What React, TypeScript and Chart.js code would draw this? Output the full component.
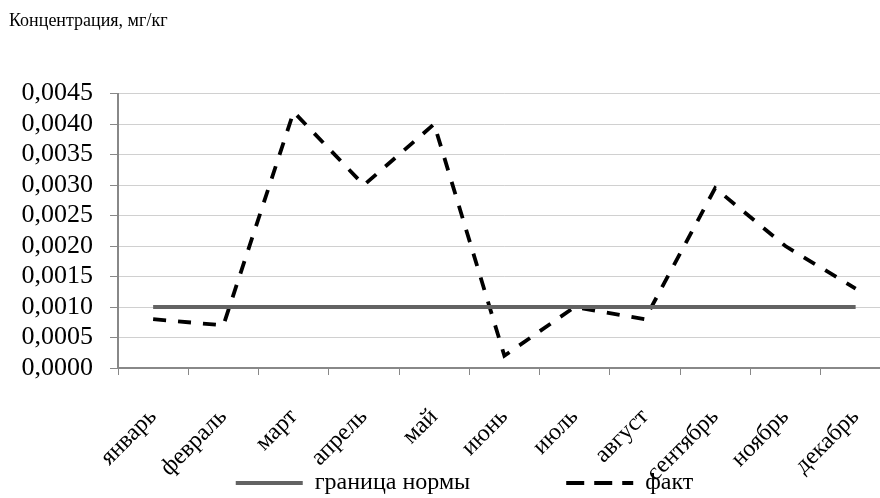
import React, { useEffect, useRef } from "react";
import { Chart, registerables } from "chart.js";

Chart.register(...registerables);

const months = ["январь", "февраль", "март", "апрель", "май", "июнь", "июль", "август", "сентябрь", "ноябрь", "декабрь"];
const normValues = [0.001, 0.001, 0.001, 0.001, 0.001, 0.001, 0.001, 0.001, 0.001, 0.001, 0.001];
const factValues = [0.0008, 0.0007, 0.0042, 0.003, 0.004, 0.0002, 0.001, 0.0008, 0.00295, 0.002, 0.0013];
const seriesNames = ["граница нормы", "факт"];
const yTitle = "Концентрация, мг/кг";
const yMin = 0;
const yMax = 0.0045;
const yStep = 0.0005;

const FONT = "'Liberation Serif', 'Times New Roman', serif";
const LEGEND_SHIFT_X = 8;
const LEGEND_SHIFT_Y = -23;

const legendShiftPlugin = {
  id: "legendShift",
  afterLayout(chart: any) {
    const lg = chart.legend;
    if (lg) {
      lg.left += LEGEND_SHIFT_X;
      lg.right += LEGEND_SHIFT_X;
      lg.top += LEGEND_SHIFT_Y;
      lg.bottom += LEGEND_SHIFT_Y;
    }
  },
};

export default function App() {
  const ref = useRef<HTMLCanvasElement | null>(null);

  useEffect(() => {
    if (!ref.current) return;
    const chart = new Chart(ref.current, {
      type: "line",
      data: {
        labels: months,
        datasets: [
          {
            label: seriesNames[0],
            data: normValues,
            borderColor: "#636363",
            backgroundColor: "#636363",
            borderWidth: 4,
            pointRadius: 0,
            tension: 0,
          },
          {
            label: seriesNames[1],
            data: factValues,
            borderColor: "#000000",
            backgroundColor: "#000000",
            borderWidth: 3.8,
            borderDash: [13, 12],
            pointRadius: 0,
            tension: 0,
          },
        ],
      },
      options: {
        animation: false,
        responsive: true,
        maintainAspectRatio: false,
        layout: { padding: { left: 9, right: 0, top: 0, bottom: 0 } },
        plugins: {
          title: {
            display: true,
            text: yTitle,
            align: "start",
            color: "#000",
            font: { family: FONT, size: 18, weight: "normal" },
            padding: { top: 10, bottom: 62 },
          },
          legend: {
            position: "bottom",
            labels: {
              usePointStyle: true,
              pointStyle: "line",
              pointStyleWidth: 67,
              boxWidth: 67,
              padding: 6,
              color: "#000",
              font: { family: FONT, size: 24 },
              generateLabels: (c: any) => {
                const items = Chart.defaults.plugins.legend.labels.generateLabels(c);
                items.forEach((it: any, i: number) => {
                  const ds: any = c.data.datasets[i];
                  it.strokeStyle = ds.borderColor;
                  it.fillStyle = ds.borderColor;
                  it.lineWidth = 4;
                  it.lineDash = ds.borderDash ? [18, 10] : [];
                });
                if (items.length) items[0].text = items[0].text + "\u00A0".repeat(15);
                return items;
              },
            },
          },
          tooltip: { enabled: false },
        },
        scales: {
          x: {
            offset: true,
            grid: {
              display: true,
              drawOnChartArea: false,
              drawTicks: true,
              tickLength: 7,
              tickColor: "#888888",
              offset: true,
            },
            border: { display: true, color: "#888888", width: 2 },
            ticks: {
              color: "#000",
              font: { family: FONT, size: 24 },
              minRotation: 45,
              maxRotation: 45,
              autoSkip: false,
              padding: 28,
            },
            afterFit: (s: any) => {
              s.height = 120;
            },
          },
          y: {
            min: yMin,
            max: yMax,
            grid: {
              color: "#d0d0d0",
              borderDash: [2, 2],
              tickColor: "#888888",
              tickLength: 8,
              tickBorderDash: [],
            } as any,
            border: { display: true, color: "#888888", width: 2 },
            ticks: {
              stepSize: yStep,
              autoSkip: false,
              color: "#000",
              font: { family: FONT, size: 26 },
              padding: 17,
              callback: (v: any) => Number(v).toFixed(4).replace(".", ","),
            },
            afterFit: (s: any) => {
              s.width = 109;
            },
          },
        },
      } as any,
      plugins: [legendShiftPlugin],
    });
    return () => chart.destroy();
  }, []);

  return (
    <div style={{ position: "absolute", left: 0, top: 0, width: 880, height: 498, overflow: "hidden", background: "#fff" }}>
      <div style={{ position: "relative", width: 904, height: 528 }}>
        <canvas ref={ref} />
      </div>
    </div>
  );
}
